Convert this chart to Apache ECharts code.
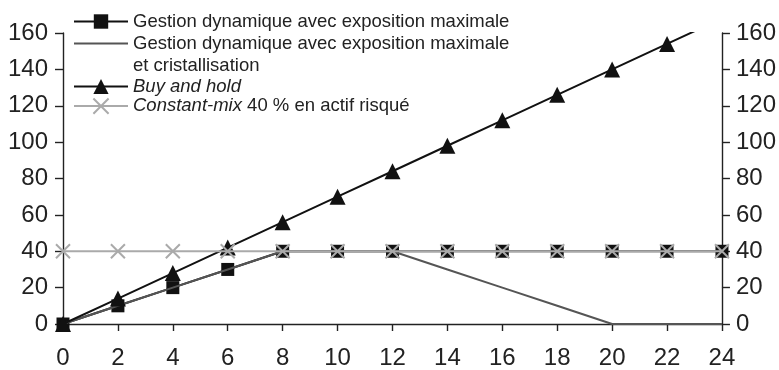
<!DOCTYPE html>
<html><head><meta charset="utf-8">
<script src="https://cdn.jsdelivr.net/npm/echarts@6/dist/echarts.min.js"></script>
<style>html,body{margin:0;padding:0;background:#fff}#c{width:779px;height:370px}</style>
</head><body><div id="c"></div>
<script>
const xValues = [0,2,4,6,8,10,12,14,16,18,20,22,24];
const dynMax = [0,10,20,30,40,40,40,40,40,40,40,40,40];
const dynCrist = [0,10,20,30,40,40,40,30,20,10,0,0,0];
const buyHold = [0,14,28,42,56,70,84,98,112,126,140,154,168];
const constMix = [40,40,40,40,40,40,40,40,40,40,40,40,40];
const yTicks = [0,20,40,60,80,100,120,140,160];
const xTicks = [0,2,4,6,8,10,12,14,16,18,20,22,24];
const names = ['Gestion dynamique avec exposition maximale',
  'Gestion dynamique avec exposition maximale et cristallisation',
  'Buy and hold',
  'Constant-mix 40 % en actif risqué'];
const pair = arr => xValues.map((x,i)=>[x,arr[i]]);
const FONT = 'Liberation Sans, Arial, sans-serif';
const LFS = 18.5;
const chart = echarts.init(document.getElementById('c'));
const legendText = {fontFamily: FONT, fontSize: LFS, color:'#222',
  rich:{i:{fontStyle:'italic', fontFamily:FONT, fontSize:LFS, color:'#222'}, n:{fontFamily:FONT, fontSize:LFS, color:'#222'}}};
const fmt = name => {
  if (name === names[1]) return 'Gestion dynamique avec exposition maximale';
  if (name === names[2]) return '{i|Buy and hold}';
  if (name === names[3]) return '{i|Constant-mix}{n| 40 % en actif risqué}';
  return name;
};
const axisLine = {show:true, lineStyle:{color:'#222', width:1.4}};
const axisTick = {show:true, length:8, lineStyle:{color:'#222', width:1.4}};
const lbl = m => ({fontFamily:FONT, fontSize:24, color:'#222', margin:m});
chart.setOption({
  animation:false,
  backgroundColor:'#fff',
  grid:{left:63, right:57, top:33, bottom:43},
  legend:[{
    data:[names[0], {name:names[1], itemStyle:{opacity:0}}], orient:'vertical', left:73, top:12,
    itemWidth:54, itemHeight:18, itemGap:3, formatter:fmt, textStyle:legendText, padding:0
  },{
    data:[names[2], names[3]], orient:'vertical', left:73, top:77,
    itemWidth:54, itemHeight:19, itemGap:0, formatter:fmt, textStyle:legendText, padding:0
  }],
  graphic:[{type:'text', left:133, top:56, style:{text:'et cristallisation', font:LFS+'px '+FONT, fill:'#222'}}],
  xAxis:{type:'value', min:xTicks[0], max:xTicks[xTicks.length-1], interval:2,
    axisLine, axisTick:{show:true, length:7, lineStyle:{color:'#222', width:1.4}}, splitLine:{show:false}, axisLabel:lbl(22)},
  yAxis:[
    {type:'value', min:yTicks[0], max:yTicks[yTicks.length-1], interval:20, position:'left',
      axisLine, axisTick, splitLine:{show:false}, axisLabel:lbl(15)},
    {type:'value', min:yTicks[0], max:yTicks[yTicks.length-1], interval:20, position:'right',
      axisLine, axisTick, splitLine:{show:false}, axisLabel:lbl(14)}
  ],
  series:[
    {name:names[0], type:'line', data:pair(dynMax), symbol:'rect', symbolSize:13,
      lineStyle:{color:'#111', width:2}, itemStyle:{color:'#111'}, color:'#111', z:2},
    {name:names[1], type:'line', data:pair(dynCrist), showSymbol:false, symbol:'none',
      lineStyle:{color:'#555', width:2}, itemStyle:{color:'#555'}, color:'#555', z:3},
    {name:names[2], type:'line', data:pair(buyHold), symbol:'triangle', symbolSize:16, clip:true,
      lineStyle:{color:'#111', width:2}, itemStyle:{color:'#111'}, color:'#111', z:4},
    {name:names[3], type:'line', data:pair(constMix), symbol:'path://M0,0L10,10M10,0L0,10', symbolSize:14,
      lineStyle:{color:'#aaa', width:2}, itemStyle:{color:'none', borderColor:'#aaa', borderWidth:2}, color:'#aaa', z:5}
  ]
});
</script></body></html>
